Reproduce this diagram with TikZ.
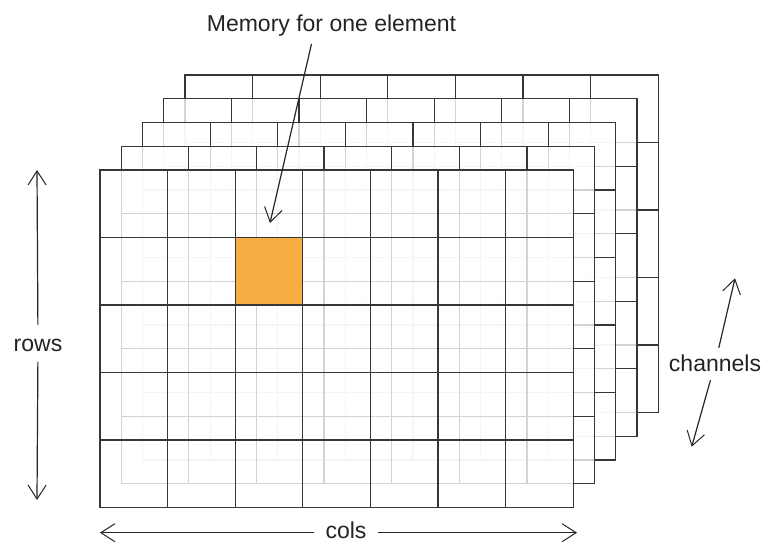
\documentclass[tikz,border=0pt]{standalone}
\usepackage{fontspec}
\setmainfont{Liberation Sans}
\usetikzlibrary{arrows.meta}
\definecolor{gridline}{RGB}{55,55,55}
\definecolor{cellorange}{RGB}{247,168,50}
\definecolor{labeltext}{RGB}{35,35,35}
\tikzset{
  layerfill/.style={fill=white, fill opacity=0.78},
  gridstroke/.style={draw=gridline, line width=1.2pt},
  arr/.style={draw=black!85, line width=1.2pt, -{Straight Barb[length=14pt,width=18pt,line width=1pt]}},
  lbl/.style={text=labeltext, font=\fontsize{23}{26}\selectfont}
}
\begin{document}
\begin{tikzpicture}[x=1pt,y=-1pt]
\useasboundingbox (0,0) rectangle (767,544);
\fill[white] (0,0) rectangle (767,544);
% stacked channel layers, back to front
\foreach \k in {4,3,2,1,0}{
  \pgfmathsetmacro\ox{100+21.25*\k}
  \pgfmathsetmacro\oy{170-23.75*\k}
  \begin{scope}[shift={(\ox pt,-\oy pt)}]
    \fill[layerfill] (0,0) rectangle (473.3,337.5);
    \foreach \i in {1,...,6}{\draw[gridstroke] (\i*67.614,0) -- (\i*67.614,337.5);}
    \foreach \j in {1,...,4}{\draw[gridstroke] (0,\j*67.5) -- (473.3,\j*67.5);}
    \draw[gridstroke] (0,0) rectangle (473.3,337.5);
  \end{scope}
}
% highlighted element
\fill[cellorange, fill opacity=0.92] (235.23,237.5) rectangle (302.84,305);
\draw[gridstroke] (235.23,237.5) rectangle (302.84,305);
\coordinate (memTip) at (270,223);
\node[lbl, anchor=base, inner sep=0pt, text height=17pt, text depth=6pt, inner ysep=6pt] (mem) at (331.5,31.7) {Memory for one element};
\draw[arr] ([xshift=-20pt]mem.south) -- (memTip);
% rows
\coordinate (rowsTop) at (37,170);
\coordinate (rowsBot) at (37,500);
\node[lbl, anchor=base, text height=16.7pt, text depth=0pt, inner ysep=10pt, inner xsep=0pt] (rows) at (38,351.7) {rows};
\draw[arr] (rows) -- (rowsTop);
\draw[arr] (rows) -- (rowsBot);
% cols
\coordinate (colsL) at (100,532.7);
\coordinate (colsR) at (577,532.7);
\node[lbl, text height=10.6pt, text depth=0pt, inner ysep=0pt, inner xsep=11pt] (cols) at (346,532.7) {cols};
\draw[arr] (cols) -- (colsL);
\draw[arr] (cols) -- (colsR);
% channels
\coordinate (chanTop) at (735,278.3);
\coordinate (chanBot) at (691.7,446.7);
\node[lbl, text height=15.4pt, text depth=0pt, inner ysep=8.3pt, inner xsep=0pt] (chan) at (715,364) {channels};
\draw[arr] (chan) -- (chanTop);
\draw[arr] (chan) -- (chanBot);
\end{tikzpicture}
\end{document}
